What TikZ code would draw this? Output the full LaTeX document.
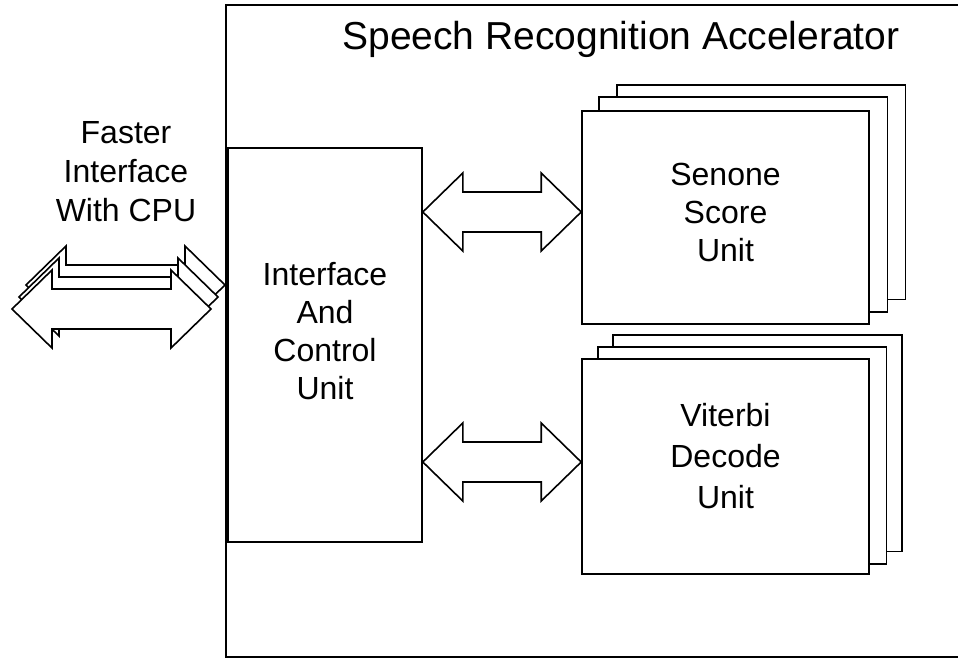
\documentclass[tikz,border=0pt]{standalone}
\usepackage{fontspec}
\setmainfont{Liberation Sans}
\usetikzlibrary{calc}

\tikzset{
  outerbox/.style={draw, line width=2pt, inner sep=0pt},
  unitbox/.style={draw, fill=white, line width=1.6pt, inner sep=0pt},
  stackbox/.style={draw, fill=white, line width=1.6pt},
  fatarrow/.style={draw, fill=white, line width=1.6pt, line join=miter},
  labeltext/.style={align=center, inner sep=0pt, font=\fontsize{32}{38}\selectfont},
  titletext/.style={inner sep=0pt, font=\fontsize{39}{46}\selectfont},
}

% Double-headed block arrow between two tip points on one horizontal line:
% heads 40 long and 78 high, shaft 40 high.
\newcommand\fatarrow[2]{%
  \draw[fatarrow] let \p1=(#1), \p2=(#2), \n1={\x2-\x1-80pt} in
    (\p1) -- ++(40,-39) -- ++(0,19) -- ++(\n1,0) -- ++(0,-19) -- (\p2)
    -- ++(-40,39) -- ++(0,-19) -- ++(-\n1,0) -- ++(0,19) -- cycle;}

\begin{document}
\begin{tikzpicture}[x=1pt, y=-1pt]
  \useasboundingbox (0,0) rectangle (958,659);

  % accelerator frame (its right side runs past the page edge)
  \node[outerbox, minimum width=736, minimum height=652] (acc) at (594,331) {};
  \node[titletext] (title) at (621,39) {Speech Recognition Accelerator};

  % interface and control unit
  \node[unitbox, minimum width=194, minimum height=394] (icu) at (325,345) {};
  \node[labeltext] (icutext) at (icu.center) [yshift=14] {Interface\\And\\Control\\Unit};

  % senone score units (stack of three)
  \node[unitbox, minimum width=287, minimum height=213] (ss) at (725.5,217.5) {};
  \draw[stackbox] ($(ss.north west)+(35.5,-25.5)$) rectangle ($(ss.south east)+(35.5,-25.5)$);
  \draw[stackbox] ($(ss.north west)+(17.5,-13)$) rectangle ($(ss.south east)+(17.5,-13)$);
  \node[unitbox, minimum width=287, minimum height=213] (ssf) at (ss.center) {};
  \node[labeltext] (sstext) at (ss.center) [yshift=5] {Senone\\Score\\Unit};

  % viterbi decode units (stack of three)
  \node[unitbox, minimum width=287, minimum height=215] (vd) at (725.5,466.5) {};
  \draw[stackbox] ($(vd.north west)+(32,-23.5)$) rectangle ($(vd.south east)+(32,-23.5)$);
  \draw[stackbox] ($(vd.north west)+(16.5,-11)$) rectangle ($(vd.south east)+(16.5,-11)$);
  \node[unitbox, minimum width=287, minimum height=215] (vdf) at (vd.center) {};
  \node[labeltext, font=\fontsize{32}{41}\selectfont] (vdtext) at (vd.center) [yshift=10] {Viterbi\\Decode\\Unit};

  % internal links
  \coordinate (a1l) at (icu.east |- 0,212);
  \coordinate (a1r) at (ss.west |- 0,212);
  \coordinate (a2l) at (icu.east |- 0,462);
  \coordinate (a2r) at (vd.west |- 0,462);
  \fatarrow{a1l}{a1r}
  \fatarrow{a2l}{a2r}

  % CPU interface: three stacked block arrows
  \node[labeltext, font=\fontsize{32}{39}\selectfont] (cputext) at (126,172) {Faster\\Interface\\With CPU};
  \coordinate (c3l) at (26,285);  \coordinate (c3r) at (225,285);
  \coordinate (c2l) at (19,297);  \coordinate (c2r) at (218,297);
  \coordinate (c1l) at (12,309);  \coordinate (c1r) at (211,309);
  \fatarrow{c3l}{c3r}
  \fatarrow{c2l}{c2r}
  \fatarrow{c1l}{c1r}
\end{tikzpicture}
\end{document}
